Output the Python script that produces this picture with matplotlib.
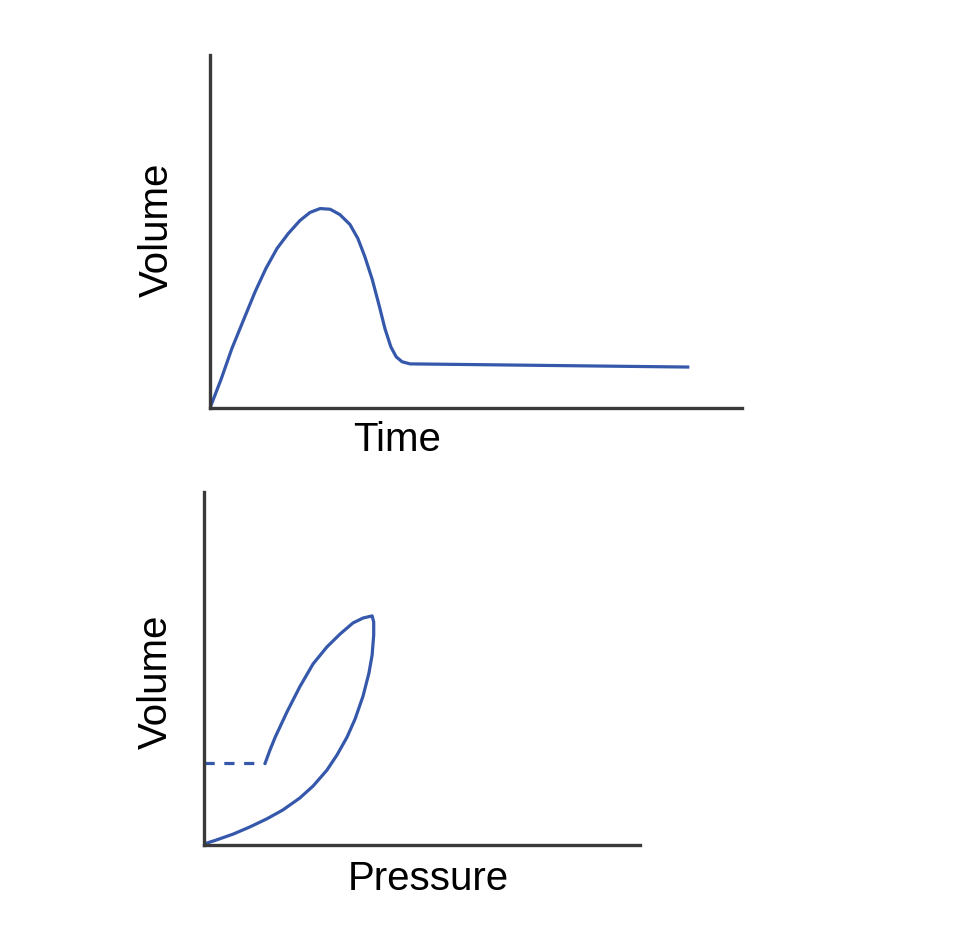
import matplotlib
matplotlib.use("Agg")
import numpy as np
from matplotlib import pyplot as plt

plt.rcParams['font.family'] = ['Liberation Sans', 'DejaVu Sans']

# volume over time (arbitrary units)
time = [0, 0.21, 0.41, 0.64, 0.85, 1.05, 1.26, 1.47, 1.69, 1.88, 2.07,
        2.26, 2.44, 2.63, 2.78, 2.91, 3.05, 3.18, 3.29, 3.40, 3.50,
        3.61, 3.76, 8.98]
volume_t = [0, 0.82, 1.68, 2.53, 3.30, 3.95, 4.52, 4.94, 5.31, 5.54, 5.65,
            5.63, 5.48, 5.20, 4.80, 4.29, 3.64, 2.90, 2.24, 1.73, 1.45,
            1.31, 1.25, 1.16]

# pressure-volume loop: dashed start, inflation branch, deflation branch
dash_p = [0, 1.15]
dash_v = [2.32, 2.32]
loop_p = [1.15, 1.24, 1.34, 1.56, 1.80, 2.05, 2.31, 2.56, 2.80, 2.99, 3.16,
          3.19, 3.19, 3.16, 3.10, 2.99, 2.84, 2.69, 2.50, 2.31, 2.05,
          1.80, 1.48, 1.18, 0.86, 0.55, 0.21, 0]
loop_v = [2.32, 2.69, 3.06, 3.77, 4.48, 5.13, 5.61, 5.98, 6.29, 6.43, 6.49,
          6.32, 5.95, 5.38, 4.87, 4.22, 3.57, 3.06, 2.55, 2.12, 1.67,
          1.33, 0.99, 0.74, 0.51, 0.31, 0.13, 0.03]

blue = "#3558ab"
axis_col = "#3a3a3a"
W, H = 978, 941

fig = plt.figure(figsize=(W / 100, H / 100), dpi=100)

def setup(ax, xmax):
    for s in ["top", "right"]:
        ax.spines[s].set_visible(False)
    for s in ["left", "bottom"]:
        ax.spines[s].set_color(axis_col)
        ax.spines[s].set_linewidth(2.4)
    ax.set_xticks([])
    ax.set_yticks([])
    ax.set_xlim(0, xmax)
    ax.set_ylim(0, 10)
    ax.patch.set_alpha(0)

# top: volume vs time
ax1 = fig.add_axes([210 / W, 1 - 408 / H, 532 / W, 353 / H])
setup(ax1, 10)
ax1.plot(time, volume_t, color=blue, lw=2.3, solid_joinstyle="round")

# bottom: volume vs pressure
ax2 = fig.add_axes([204 / W, 1 - 845 / H, 436 / W, 353 / H])
setup(ax2, 436 / 53.2)
ax2.plot(dash_p, dash_v, color=blue, lw=2.3, ls=(0, (3.2, 3.0)))
ax2.plot(loop_p, loop_v, color=blue, lw=2.3, solid_joinstyle="round")

fs = 29
fig.text(397 / W, 1 - 440 / H, "Time", fontsize=fs, ha="center", va="center")
fig.text(157 / W, 1 - 230 / H, "Volume", fontsize=fs, ha="center", va="center", rotation=90)
fig.text(156 / W, 1 - 682 / H, "Volume", fontsize=fs, ha="center", va="center", rotation=90)
fig.text(428 / W, 1 - 879 / H, "Pressure", fontsize=fs, ha="center", va="center")

fig.savefig("out.png", dpi=100, facecolor="white")
